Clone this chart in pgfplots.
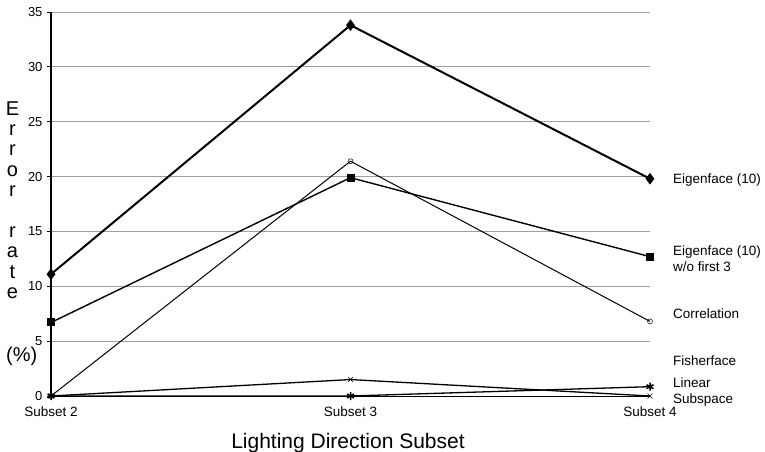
\documentclass[border=0pt]{standalone}
\usepackage{fontspec}
\setmainfont{Liberation Sans}
\usepackage{pgfplots}
\pgfplotsset{compat=1.18}
\begin{document}
\begin{tikzpicture}[x=1pt,y=1pt]
\useasboundingbox (0,0) rectangle (765,451);
\begin{axis}[
  at={(51pt,55pt)}, anchor=south west,
  scale only axis, width=599pt, height=384pt,
  xmin=0, xmax=2, ymin=0, ymax=35,
  axis lines*=left,
  y axis line style={line width=2.2pt},
  x axis line style={line width=0.8pt},
  xtick={0,1,2}, xticklabels={Subset 2,Subset 3,Subset 4},
  ytick={0,5,...,35},
  ymajorgrids, grid style={gray!75, line width=0.8pt},
  tick align=outside,
  major tick length=4pt,
  ytick style={line width=0.8pt, black},
  xtick style={draw=none},
  clip=false,
  /pgf/number format/assume math mode=true,
  yticklabel style={font=\fontsize{13}{14}\selectfont, xshift=-1pt},
  xticklabel style={font=\fontsize{13.5}{15}\selectfont, yshift=-3pt},
]
\addplot[black, line width=2pt, mark=diamond*, mark size=4.2pt] coordinates {(0,11.1)(1,33.8)(2,19.8)};
\addplot[black, line width=1.4pt, mark=square*, mark size=3.3pt] coordinates {(0,6.7)(1,19.9)(2,12.7)};
\addplot[black, line width=1pt, mark=o, mark size=2.5pt, mark options={line width=0.5pt, fill=white}] coordinates {(0,0)(1,21.4)(2,6.8)};
\addplot[black, line width=1.3pt, mark=x, mark size=3.5pt, mark options={line width=0.6pt}] coordinates {(0,0)(1,1.5)(2,0)};
\addplot[black, line width=1.3pt, mark=asterisk, mark size=4pt, mark options={line width=1.5pt}] coordinates {(0,0)(1,0)(2,0.85)};
\end{axis}
% y-axis label, stacked letters
\begin{scope}[every node/.style={font=\fontsize{20}{22}\selectfont, anchor=base, inner sep=0pt}]
\node at (12.5,{451-115}) {E};
\node at (12.5,{451-135.4}) {r};
\node at (12.5,{451-155.8}) {r};
\node at (12.5,{451-176.2}) {o};
\node at (12.5,{451-196.6}) {r};
\node at (12.5,{451-237.4}) {r};
\node at (12.5,{451-257.8}) {a};
\node at (12.5,{451-278.2}) {t};
\node at (12.5,{451-298.6}) {e};
\node[anchor=base west] at (6,{451-361}) {(\%)};
\end{scope}
% x-axis label
\node[font=\fontsize{21}{24}\selectfont, anchor=base, inner sep=0pt] at (348,3) {Lighting Direction Subset};
% series labels
\begin{scope}[every node/.style={font=\fontsize{13.5}{15}\selectfont, anchor=base west, inner sep=0pt}]
\node at (673,268) {Eigenface (10)};
\node at (673,196) {Eigenface (10)};
\node at (673,179.5) {w/o first 3};
\node at (673,133) {Correlation};
\node at (673,86) {Fisherface};
\node at (673,64) {Linear};
\node at (673,48) {Subspace};
\end{scope}
\end{tikzpicture}
\end{document}
